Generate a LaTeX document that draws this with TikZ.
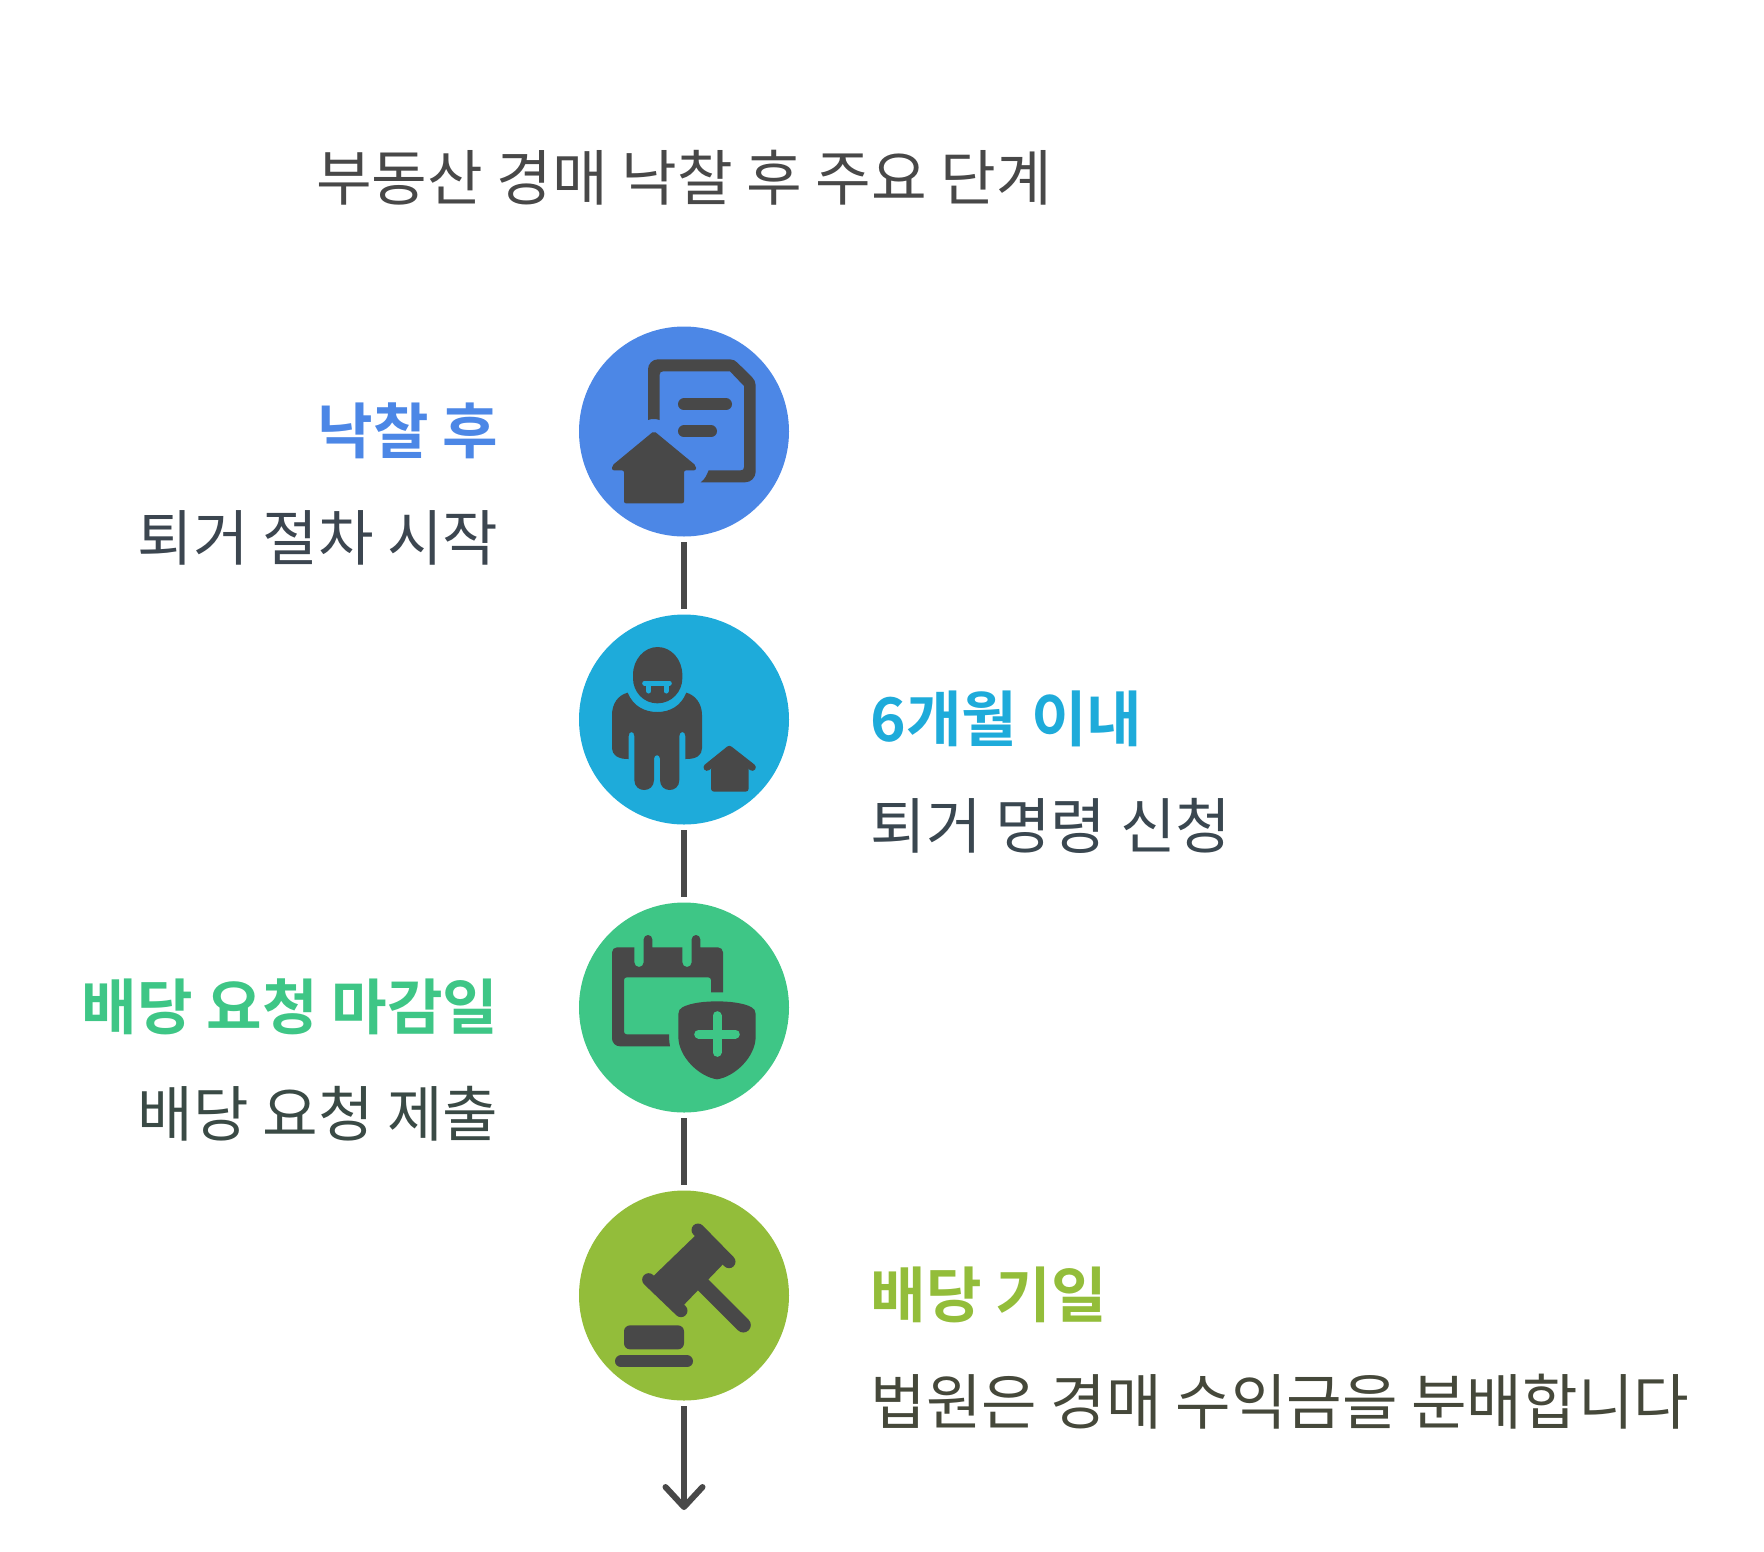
\documentclass[tikz,border=0pt]{standalone}
\usepackage{fontspec}
\setmainfont{Noto Sans CJK KR}
\newfontfamily\krb{Noto Sans CJK KR Bold}
\usetikzlibrary{arrows.meta}
\definecolor{ink}{HTML}{484848}
\definecolor{cblue}{HTML}{4C87E6}
\definecolor{ccyan}{HTML}{1EABDA}
\definecolor{cgreen}{HTML}{3EC686}
\definecolor{colive}{HTML}{93BD3A}
\definecolor{tblue}{HTML}{3C4650}
\definecolor{tcyan}{HTML}{3A4750}
\definecolor{tgreen}{HTML}{3A4A45}
\definecolor{tolive}{HTML}{45483A}
\tikzset{
  x=1pt,y=-1pt,
  stepdisc/.style={circle,minimum size=210pt,inner sep=0pt,outer sep=0pt},
  conn/.style={draw=ink,line width=6pt,shorten <=5.5pt,shorten >=5.5pt},
  icon/.style={fill=ink,draw=none},
  iconline/.style={draw=ink,line cap=round,line join=round},
  title/.style={font=\fontsize{60.5pt}{60.5pt}\selectfont,text=ink,inner sep=0pt,anchor=base},
  headR/.style={font=\krb\fontsize{60.4pt}{60.4pt}\selectfont,inner sep=0pt,anchor=base west},
  headL/.style={font=\krb\fontsize{60.4pt}{60.4pt}\selectfont,inner sep=0pt,anchor=base east},
  descR/.style={font=\fontsize{60.4pt}{60.4pt}\selectfont,inner sep=0pt,anchor=base west},
  descL/.style={font=\fontsize{60.4pt}{60.4pt}\selectfont,inner sep=0pt,anchor=base east},
}
\begin{document}
\begin{tikzpicture}
\useasboundingbox (0,0) rectangle (1764,1551);
\node[title] (ttl) at (684,200.5) {부동산 경매 낙찰 후 주요 단계};

\node[stepdisc,fill=cblue] (c1) at (684,431.5) {};
\node[stepdisc,fill=ccyan] (c2) at (684,719.5) {};
\node[stepdisc,fill=cgreen] (c3) at (684,1007.5) {};
\node[stepdisc,fill=colive] (c4) at (684,1295.5) {};
\coordinate (end) at (684,1510);

\draw[conn] (c1) -- (c2);
\draw[conn] (c2) -- (c3);
\draw[conn] (c3) -- (c4);
\draw[conn,shorten >=0pt,-{Straight Barb[length=20pt,width=37pt,line width=6pt,round]}] (c4) -- (end);

% labels
\node[headL,text=cblue] (h1) at (498.5,453) {낙찰 후};
\node[descL,text=tblue] (d1) at (498.5,560) {퇴거 절차 시작};
\node[headR,text=ccyan] (h2) at (870.5,741) {6개월 이내};
\node[descR,text=tcyan] (d2) at (870.5,848) {퇴거 명령 신청};
\node[headL,text=cgreen] (h3) at (498.5,1029) {배당 요청 마감일};
\node[descL,text=tgreen] (d3) at (498.5,1136) {배당 요청 제출};
\node[headR,text=colive] (h4) at (870.5,1317) {배당 기일};
\node[descR,text=tolive] (d4) at (870.5,1424) {법원은 경매 수익금을 분배합니다};

% icon 1: document + house
\begin{scope}[shift={(570,320)},x=.33333pt,y=-.33333pt]
\path[icon] (234,300) -- (234,148) arc[start angle=180,end angle=270,radius=30] -- (480,118) .. controls (490,118) and (496,122) .. (502,128) -- (545,170) .. controls (552,178) and (557,185) .. (557,195) -- (557,455) arc[start angle=0,end angle=90,radius=32] -- (392,487) .. controls (405,478) and (410,465) .. (416,451) -- (512,451) .. controls (519,451) and (522,448) .. (522,441) -- (522,198) -- (480,154) -- (280,154) .. controls (273,154) and (269,157) .. (269,164) -- (269,300) .. controls (258,296) and (245,296) .. (234,300) -- cycle;
\draw[iconline,line width=12pt] (342,253) -- (468,253);
\draw[iconline,line width=12pt] (342,334) -- (423,334);
\path[icon,rounded corners=2pt] (252,333) -- (378,437) -- (378,451) -- (342,451) -- (342,550) -- (162,550) -- (162,451) -- (126,451) -- (126,437) -- cycle;
\end{scope}

% icon 2: person + house
\begin{scope}[shift={(570,610)},x=.33333pt,y=-.33333pt]
\path[icon] (189,195) arc[start angle=180,end angle=360,x radius=74,y radius=84] -- (337,205) .. controls (337,245) and (305,280) .. (262,280) .. controls (220,280) and (189,245) .. (189,205) -- cycle;
\draw[ccyan,line width=5pt,line cap=round] (224,219) -- (298,219);
\draw[ccyan,line width=5pt,line cap=round] (236,222) -- (236,243);
\draw[ccyan,line width=5pt,line cap=round] (288,222) -- (288,243);
\path[icon] (173,248) .. controls (190,290) and (225,306) .. (262,306) .. controls (300,306) and (333,288) .. (349,248) .. controls (375,255) and (396,280) .. (396,315) -- (396,415) .. controls (396,435) and (380,448) .. (346,447) -- (346,378) .. controls (346,362) and (328,362) .. (328,378) -- (328,510) .. controls (328,550) and (270,550) .. (270,510) -- (270,446) .. controls (270,432) and (252,432) .. (252,446) -- (252,510) .. controls (252,550) and (193,550) .. (193,510) -- (193,378) .. controls (193,362) and (176,362) .. (176,378) -- (176,447) .. controls (145,448) and (126,435) .. (126,415) -- (126,315) .. controls (126,280) and (145,255) .. (173,248) -- cycle;
\draw[iconline,line width=7pt] (411,472) -- (478,418) -- (547,472);
\path[icon,rounded corners=3pt] (423,470) -- (478,420) -- (536,470) -- (536,545) -- (423,545) -- cycle;
\end{scope}

% icon 3: calendar + shield
\begin{scope}[shift={(570,900)},x=.33333pt,y=-.33333pt]
\path[icon] (300,439) -- (150,439) arc[start angle=90,end angle=180,radius=24] -- (126,157) arc[start angle=180,end angle=270,radius=15] -- (193,142) -- (193,187) arc[start angle=180,end angle=0,radius=14] -- (221,118) arc[start angle=180,end angle=360,radius=13] -- (247,142) -- (337,142) -- (337,187) arc[start angle=180,end angle=0,radius=14] -- (365,118) arc[start angle=180,end angle=360,radius=13] -- (391,142) -- (444,142) arc[start angle=270,end angle=360,radius=15] -- (459,277) -- (423,277) -- (423,240) arc[start angle=0,end angle=-90,radius=8] -- (170,232) arc[start angle=270,end angle=180,radius=8] -- (162,395) arc[start angle=180,end angle=90,radius=8] -- (297,403) .. controls (297,415) and (298,428) .. (300,439) -- cycle;
\path[icon] (441,304) .. controls (475,304) and (520,308) .. (545,322) .. controls (552,326) and (557,332) .. (557,342) -- (557,410) .. controls (557,470) and (495,530) .. (441,538) .. controls (387,530) and (325,470) .. (325,410) -- (325,342) .. controls (325,332) and (330,326) .. (337,322) .. controls (362,308) and (407,304) .. (441,304) -- cycle;
\draw[cgreen,line width=9pt,line cap=round] (441,347) -- (441,457);
\draw[cgreen,line width=9pt,line cap=round] (386,402) -- (496,402);
\end{scope}

% icon 4: gavel
\begin{scope}[shift={(570,1190)},x=.33333pt,y=-.33333pt]
\draw[iconline,line width=13pt] (236,269) -- (333,362);
\draw[iconline,line width=13pt] (384,120) -- (477,215);
\path[icon] (238,270) -- (386,127) -- (471,210) -- (327,360) -- cycle;
\draw[iconline,line width=15pt] (400,285) -- (520,405);
\path[icon,rounded corners=6pt] (162,406) rectangle (342,478);
\draw[iconline,line width=12pt] (153,514) -- (351,514);
\end{scope}
\end{tikzpicture}
\end{document}
